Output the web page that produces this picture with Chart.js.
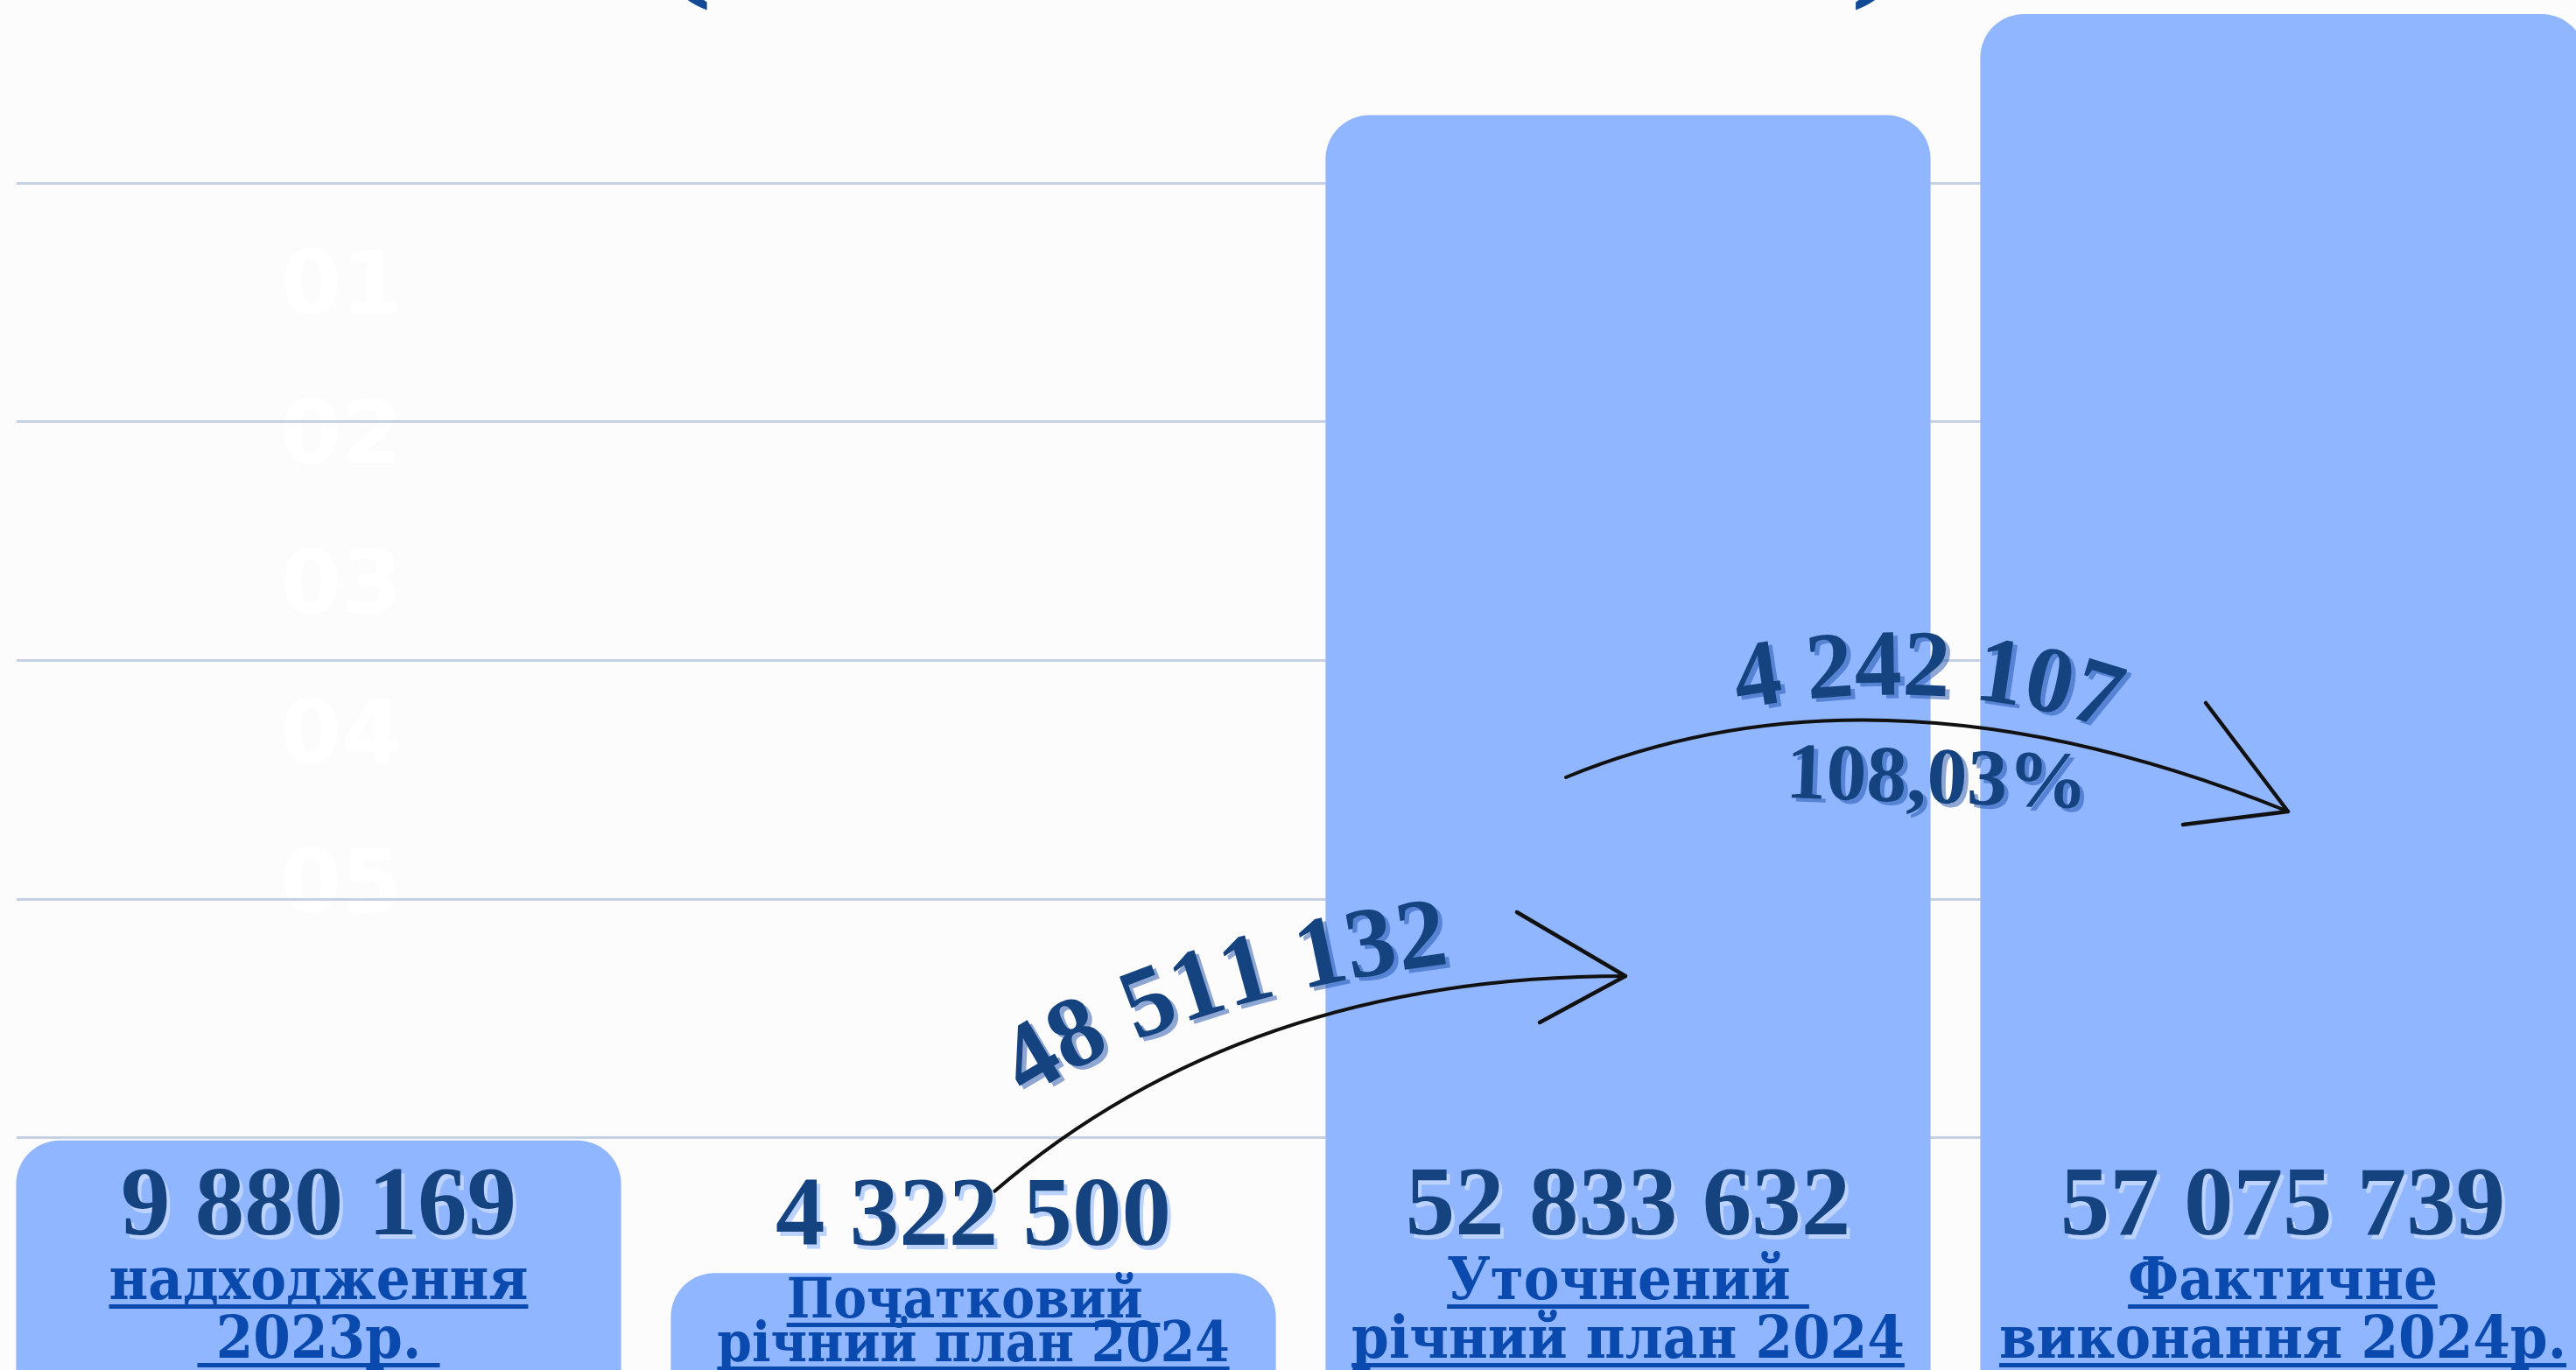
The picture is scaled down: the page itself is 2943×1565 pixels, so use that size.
<!DOCTYPE html>
<html>
<head>
<meta charset="utf-8">
<script src="https://cdn.jsdelivr.net/npm/chart.js@4.4.1/dist/chart.umd.min.js"></script>
<style>
  html, body { margin: 0; padding: 0; background: #fcfcfc; overflow: hidden; }
  #wrap { position: relative; width: 2943px; height: 1565px; overflow: hidden; }
  #myChart { position: absolute; left: -10px; top: 0; }
</style>
</head>
<body>
<div id="wrap"><canvas id="myChart" width="2992" height="1572"></canvas></div>
<script>
const categories = ['надходження 2023р.', 'Початковий річний план 2024', 'Уточнений річний план 2024', 'Фактичне виконання 2024р.'];
const values = [9880169, 4322500, 52833632, 57075739];
const labelLines = [
    ['надходження', ' 2023р. '],
    ['Початковий ', 'річний план 2024'],
    ['Уточнений ', 'річний план 2024'],
    ['Фактичне', 'виконання 2024р.']
];
const gridValues = [10000000, 20000000, 30000000, 40000000, 50000000];
const stepLabels = ['01', '02', '03', '04', '05'];
const yMax = 57660000;

const NUM_COLOR = '#15437f';
const LABEL_COLOR = '#0a4aae';

// 9880169 -> "9 880 169"
const fmt = n => String(n).replace(/\B(?=(\d{3})+(?!\d))/g, ' ');

function shadowText(ctx, str, x, y, shadow, dx, dy) {
    ctx.fillStyle = shadow;
    ctx.fillText(str, x + dx, y + dy);
    ctx.fillStyle = NUM_COLOR;
    ctx.fillText(str, x, y);
}

function quadPoints(p0, p1, p2) {
    const pts = [];
    let len = 0, prev = null;
    for (let i = 0; i <= 400; i++) {
        const t = i / 400, u = 1 - t;
        const x = u * u * p0.x + 2 * u * t * p1.x + t * t * p2.x;
        const y = u * u * p0.y + 2 * u * t * p1.y + t * t * p2.y;
        if (prev) len += Math.hypot(x - prev.x, y - prev.y);
        pts.push({x, y, len});
        prev = {x, y};
    }
    return pts;
}

// text laid char by char along a quadratic curve
function textOnCurve(ctx, str, p0, p1, p2, color) {
    const pts = quadPoints(p0, p1, p2);
    const total = pts[pts.length - 1].len;
    let d = (total - ctx.measureText(str).width) / 2;
    ctx.fillStyle = color;
    ctx.textAlign = 'center';
    for (const ch of str) {
        const w = ctx.measureText(ch).width;
        const mid = d + w / 2;
        let k = pts.findIndex(p => p.len >= mid);
        if (k < 1) k = k === 0 ? 1 : pts.length - 1;
        const a = pts[k - 1], b = pts[k];
        ctx.save();
        ctx.translate(b.x, b.y);
        ctx.rotate(Math.atan2(b.y - a.y, b.x - a.x));
        ctx.fillText(ch, 0, 0);
        ctx.restore();
        d += w;
    }
}

function arrow(ctx, p0, p1, p2, h1, h2) {
    ctx.save();
    ctx.strokeStyle = '#111';
    ctx.lineCap = 'round';
    ctx.lineJoin = 'round';
    ctx.lineWidth = 4;
    ctx.beginPath();
    ctx.moveTo(p0.x, p0.y);
    ctx.quadraticCurveTo(p1.x, p1.y, p2.x, p2.y);
    ctx.stroke();
    ctx.lineWidth = 4.5;
    ctx.beginPath();
    ctx.moveTo(h1.x, h1.y);
    ctx.lineTo(p2.x, p2.y);
    ctx.lineTo(h2.x, h2.y);
    ctx.stroke();
    ctx.restore();
}

const backdrop = {
    id: 'backdrop',
    beforeDatasetsDraw(chart) {
        const ctx = chart.ctx;
        const y = chart.scales.y;
        const bars = chart.getDatasetMeta(0).data;
        ctx.save();
        // faint step numbers
        ctx.fillStyle = '#ffffff';
        ctx.font = 'bold 100px "DejaVu Sans"';
        ctx.textAlign = 'center';
        ctx.textBaseline = 'middle';
        stepLabels.forEach((s, i) => ctx.fillText(s, bars[0].x + 26, 332 + i * 171));
        // grid
        ctx.strokeStyle = '#c6d2e4';
        ctx.lineWidth = 3;
        gridValues.forEach(v => {
            const py = Math.round(y.getPixelForValue(v)) + 0.5;
            ctx.beginPath();
            ctx.moveTo(29, py);
            ctx.lineTo(chart.width, py);
            ctx.stroke();
        });
        // tails of the title brackets
        ctx.fillStyle = '#124a96';
        ctx.font = 'bold 150px "DejaVu Serif"';
        ctx.textBaseline = 'alphabetic';
        ctx.fillText('(', 790, -12);
        ctx.fillText(')', 2158, -12);
        ctx.restore();
    }
};

const annotations = {
    id: 'annotations',
    afterDatasetsDraw(chart) {
        const ctx = chart.ctx;
        const b = chart.getDatasetMeta(0).data.map(e => e.x);
        ctx.save();

        // arrows
        arrow(ctx, {x: b[1] + 24, y: 1361}, {x: b[1] + 310, y: 1115}, {x: b[2] - 3, y: 1115},
            {x: b[2] - 127, y: 1042}, {x: b[2] - 101, y: 1168});
        arrow(ctx, {x: b[2] - 71, y: 888}, {x: b[2] + 290, y: 740}, {x: b[3] + 6, y: 927},
            {x: b[3] - 88, y: 803}, {x: b[3] - 114, y: 942});

        // change labels
        const diff1 = fmt(values[2] - values[1]);
        const diff2 = fmt(values[3] - values[2]);
        const pct = (values[3] / values[2] * 100).toFixed(2).replace('.', ',') + '%';
        ctx.textBaseline = 'alphabetic';
        ctx.font = 'bold 114px "Liberation Serif"';
        const c1 = [{x: b[1] + 48, y: 1262}, {x: b[1] + 228, y: 1140}, {x: b[2] - 198, y: 1100}];
        textOnCurve(ctx, diff1, ...c1.map(p => ({x: p.x + 5, y: p.y + 4})), 'rgba(30,80,170,0.5)');
        textOnCurve(ctx, diff1, ...c1, NUM_COLOR);
        ctx.font = 'bold 108px "Liberation Serif"';
        const c2 = [{x: b[2] + 124, y: 810}, {x: b[2] + 363, y: 768}, {x: b[3] - 196, y: 834}];
        textOnCurve(ctx, diff2, ...c2.map(p => ({x: p.x + 5, y: p.y + 4})), 'rgba(30,80,170,0.5)');
        textOnCurve(ctx, diff2, ...c2, NUM_COLOR);
        ctx.font = 'bold 92px "Liberation Serif"';
        ctx.save();
        ctx.translate(b[2] + 352, 917);
        ctx.rotate(0.035);
        ctx.textAlign = 'center';
        shadowText(ctx, pct, 0, 0, 'rgba(30,80,170,0.5)', 5, 4);
        ctx.restore();

        // value labels
        ctx.textAlign = 'center';
        ctx.font = 'bold 113px "Liberation Serif"';
        values.forEach((v, i) => {
            const by = i === 1 ? 1422 : 1410;
            shadowText(ctx, fmt(v), b[i], by, '#bcd2ff', 4, 5);
        });

        // category labels, underlined
        labelLines.forEach((lines, i) => {
            const size = i === 1 ? 63 : 68;
            const base = i === 1 ? [1505, 1555] : [1484, 1551];
            ctx.font = 'bold ' + size + 'px "DejaVu Serif"';
            lines.forEach((s, j) => {
                ctx.save();
                ctx.translate(b[i], base[j]);
                ctx.scale(0.9, 1);
                const w = ctx.measureText(s).width;
                ctx.fillStyle = LABEL_COLOR;
                ctx.fillText(s, 0, 0);
                ctx.fillRect(-w / 2, 6, w, 5);
                ctx.restore();
            });
        });
        ctx.restore();
    }
};

const config = {
    type: 'bar',
    data: {
        labels: categories,
        datasets: [{
            data: values,
            backgroundColor: '#8fb6fe',
            borderWidth: 0,
            borderSkipped: false,
            borderRadius: {topLeft: 50, topRight: 50, bottomLeft: 0, bottomRight: 0},
            barPercentage: 0.924,
            categoryPercentage: 1
        }]
    },
    options: {
        responsive: false,
        animation: false,
        layout: { padding: 0 },
        plugins: {
            legend: { display: false },
            tooltip: { enabled: false },
            title: { display: false }
        },
        scales: {
            x: { display: false },
            y: { display: false, min: 0, max: yMax }
        }
    },
    plugins: [backdrop, annotations]
};

const myChart = new Chart(document.getElementById('myChart'), config);
</script>
</body>
</html>
